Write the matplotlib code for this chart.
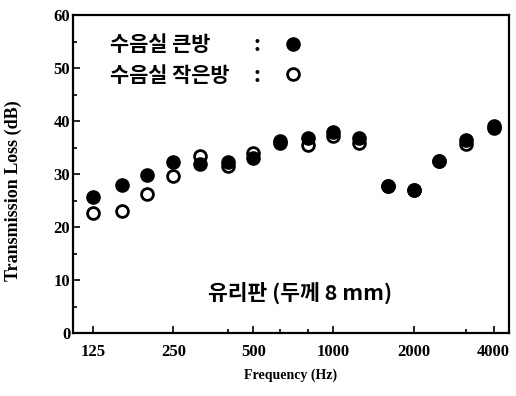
import matplotlib
matplotlib.use("Agg")
import matplotlib.pyplot as plt
from matplotlib.ticker import FixedLocator, NullFormatter, MultipleLocator

# 1/3-octave band centres (Hz)
freqs = [125, 160, 200, 250, 315, 400, 500, 630, 800, 1000, 1250, 1600, 2000, 2500, 3150, 4000]
# transmission loss (dB) measured in the large / small receiving room
tl_large = [25.7, 27.9, 29.8, 32.3, 31.9, 32.3, 33.0, 36.2, 36.8, 37.9, 36.8, 27.8, 27.0, 32.5, 36.5, 39.0]
tl_small = [22.7, 23.0, 26.2, 29.6, 33.4, 31.5, 34.0, 35.8, 35.5, 37.2, 35.8, 27.8, 27.0, 32.5, 35.7, 38.6]

xticks = [125, 250, 500, 1000, 2000, 4000]
xticklabels = ["125", "250", "500", "1000", "2000", "4000"]

label_large = "수음실 큰방"
label_small = "수음실 작은방"
note = "유리판 (두께 8 mm)"

kr = ["Noto Sans CJK KR", "DejaVu Sans"]
serif = "Liberation Serif"

fig = plt.figure(figsize=(5.16, 3.96), dpi=100)
ax = fig.add_axes([0.1415, 0.159, 0.8445, 0.803])

small, = ax.plot(freqs, tl_small, "o", ms=8.5, mfc="white", mec="black", mew=2.0,
                 linestyle="none", zorder=3)
large, = ax.plot(freqs, tl_large, "o", ms=9.5, mfc="black", mec="black",
                 linestyle="none", zorder=4)

ax.set_xscale("log")
ax.set_xlim(105, 4560)
ax.set_ylim(0, 60)

ax.xaxis.set_major_locator(FixedLocator(xticks))
ax.set_xticklabels(xticklabels)
ax.xaxis.set_minor_locator(FixedLocator([400, 630, 800, 3150]))
ax.xaxis.set_minor_formatter(NullFormatter())
ax.yaxis.set_major_locator(MultipleLocator(10))
ax.yaxis.set_minor_locator(MultipleLocator(5))

ax.tick_params(which="both", direction="in", colors="black", width=1.2)
ax.tick_params(which="major", length=5)
ax.tick_params(which="minor", length=3)
ax.tick_params(axis="x", pad=8)
ax.tick_params(axis="y", pad=2)
for lab in ax.get_xticklabels() + ax.get_yticklabels():
    lab.set_fontfamily(serif)
    lab.set_fontweight("bold")
    lab.set_fontsize(12)

for s in ax.spines.values():
    s.set_linewidth(1.6)

ax.set_xlabel("Frequency (Hz)", fontfamily=serif, fontweight="bold", fontsize=10, labelpad=6)
ax.set_ylabel("Transmission Loss (dB)", fontfamily=serif, fontweight="bold", fontsize=13)
ax.yaxis.set_label_coords(-0.116, 0.447)

# legend: text + colon as plain text, marker keys from a legend with empty labels
for y, lab in [(0.906, label_large), (0.811, label_small)]:
    ax.text(0.085, y, lab, transform=ax.transAxes, fontfamily=kr, fontsize=15,
            fontweight="bold", ha="left", va="center")
    ax.text(0.422, y, ":", transform=ax.transAxes, fontfamily=kr, fontsize=15,
            fontweight="bold", ha="center", va="center")
ax.legend([large, small], ["", ""], loc="center", bbox_to_anchor=(0.505, 0.8585),
          frameon=False, handlelength=1.0, handletextpad=0, labelspacing=1.13,
          borderpad=0, borderaxespad=0, prop={"family": kr, "size": 10})

ax.text(0.31, 0.126, note, transform=ax.transAxes, fontfamily=kr, fontsize=15.5,
        fontweight="bold", ha="left", va="center")

fig.savefig("out.png", dpi=100)
